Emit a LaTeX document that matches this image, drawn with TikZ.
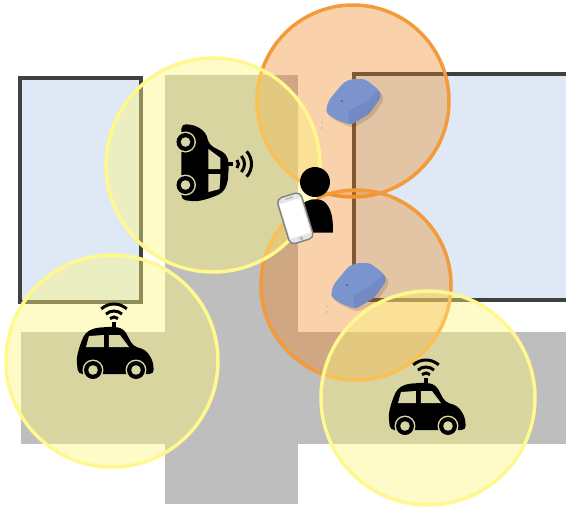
\documentclass[tikz,border=0pt]{standalone}
\usepackage{xcolor}
\usepackage{tikz}
\definecolor{strada}{HTML}{BEBEBE}
\definecolor{edificio}{HTML}{DEE9F5}
\definecolor{muro}{HTML}{404040}
\definecolor{arancio}{HTML}{EE851E}
\definecolor{arancioline}{HTML}{F39A3A}
\definecolor{giallo}{HTML}{FFF67B}
\definecolor{gialloline}{HTML}{FFF88F}
\definecolor{fondocar}{HTML}{D9D6A5}
\definecolor{pietra}{HTML}{7B94CE}
\definecolor{pietrascura}{HTML}{7389C4}
\tikzset{
  zonasensore/.style={draw=arancioline, line width=2pt, fill=arancio, fill opacity=0.37},
  zonacar/.style={draw=gialloline, line width=2pt, fill=giallo, fill opacity=0.42},
  pics/car/.style={code={
    \fill[black, rounded corners=2.5pt] (-37,22) -- (-38.5,6) -- (-35,-7) -- (-30,-19) -- (-21,-24) -- (-1,-25.5) -- (9,-23) -- (18,-6) -- (31,-2) -- (38,9) -- (39,22) -- cycle;
    \fill[fondocar] (-29,-5) -- (-26,-16) -- (-11,-17) -- (-11,-5) -- cycle;
    \fill[fondocar] (-6,-17) -- (5,-17) -- (14,-5) -- (-6,-5) -- cycle;
    \foreach \r in {-22,21} {
      \fill[fondocar] (\r,18) circle (10.5);
      \fill[black] (\r,18) circle (9);
      \fill[fondocar] (\r,18) circle (4.8);
    }
    % antenna
    \draw[black, line width=1.8pt] (-1,-25) -- (-1,-30);
    \foreach \r in {6,12,19}
      \draw[black, line width=1.7pt] (-1,-29) ++(-132:\r) arc[start angle=-132, end angle=-48, radius=\r];
  }},
  pics/sensore/.style={code={
    \fill[black!60!arancio, opacity=0.18, rounded corners=2pt] (-13,11) -- (-10,2) -- (5,-16) -- (13,-19) -- (26,-19) -- (40,-8) -- (42,-1) -- (30,16) -- (11,27) -- (-2,22) -- (-12,16) -- cycle;
    \fill[pietra, rounded corners=2pt] (-16,8) -- (-13,-1) -- (2,-19) -- (10,-22) -- (23,-22) -- (37,-11) -- (39,-4) -- (27,13) -- (8,24) -- (-5,19) -- (-15,13) -- cycle;
    \fill[pietrascura, rounded corners=1pt] (37,-11) -- (39,-4) -- (27,13) -- (8,24) -- (6,10) -- (24,1) -- cycle;
    \fill[black!70] (0,0) circle (0.8);
    \foreach \d in {21,27} \fill[pietra!70!white] (-20,\d) circle (0.8);
  }}
}
\begin{document}
\begin{tikzpicture}[x=0.02cm, y=-0.02cm]
  \useasboundingbox (0,0) rectangle (566,508);
  % Edifici
  \fill[edificio] (20,78) rectangle (141,302);
  \fill[edificio] (354,74) rectangle (566,300);
  \draw[muro, line width=2pt] (20,78) rectangle (141,302);
  \draw[muro, line width=2pt] (566,74) -- (354,74) -- (354,300) -- (566,300);
  % Strade
  \fill[strada] (21,332) rectangle (566,444);
  \fill[strada] (165,75) rectangle (298,504);
  % Zone dei sensori
  \draw[zonasensore] (353,101) circle (96);
  \draw[zonasensore] (356,285) circle (95);
  \pic at (342,101) {sensore};
  \pic at (347,285) {sensore};
  % Zone delle auto
  \draw[zonacar] (213,165) circle (107);
  \draw[zonacar] (112,361) circle (106);
  \draw[zonacar] (428,398) circle (107);
  \pic at (115,352) {car};
  \pic at (427,408) {car};
  \pic[rotate=-90, xscale=-1] at (203.5,163) {car};
  % Persona
  \fill[black] (315,182) circle (15);
  \fill[black] (300,232.5) -- (300,206) .. controls (306,199) and (322,195) .. (328,206) .. controls (332.5,213) and (333,222) .. (333,232.5) -- cycle;
  % Telefono
  \begin{scope}[shift={(295.3,218.3)}, rotate=17]
    \draw[gray, fill=gray!20, line width=0.8pt, rounded corners=3pt] (-12.5,-24) rectangle (12.5,24);
    \fill[white] (-11,-18) rectangle (10.5,18);
    \draw[gray!80, line width=0.3pt] (0,21) circle (1.6);
    \draw[gray!80, line width=0.4pt] (-4,-21) -- (4,-21);
  \end{scope}
\end{tikzpicture}
\end{document}
